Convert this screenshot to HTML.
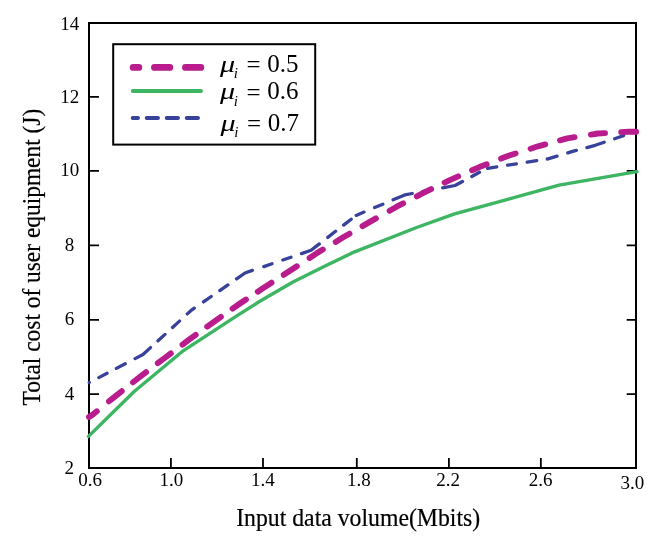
<!DOCTYPE html>
<html><head><meta charset="utf-8"><title>Total cost of user equipment</title>
<style>
html,body{margin:0;padding:0;background:#fff;}
svg{display:block}
text{font-family:"Liberation Serif","Times New Roman",serif;fill:#000}
.t{font-size:19px;text-anchor:middle}
.a{font-size:25px;stroke:#000;stroke-width:0.2px}
.l{font-size:25px}
.i{font-style:italic}
</style></head><body>
<svg width="662" height="543" viewBox="0 0 662 543">
<rect x="0" y="0" width="662" height="543" fill="#fff"/>
<rect x="89" y="23" width="547" height="445" fill="none" stroke="#000" stroke-width="2"/>
<path d="M89,96.8h10 M636,96.8h-9.3 M89,170.8h10 M636,170.8h-9.3 M89,245.4h10 M636,245.4h-9.3 M89,319.8h10 M636,319.8h-9.3 M89,394.2h10 M636,394.2h-9.3 M170.9,468v-10 M263.0,468v-10 M356.8,468v-10 M448.9,468v-10 M540.85,468v-10" fill="none" stroke="#000" stroke-width="1.8"/>
<path d="M88.5,436.4 L134.2,391.5 L182.0,351.7 L238.3,314.8 L258.6,302.0 L293.0,282.0 L325.6,265.7 L354.6,251.8 L416.6,227.5 L454.6,213.9 L487.6,204.8 L559.0,185.2 L637.0,171.6" fill="none" stroke="#3db562" stroke-width="3.4" stroke-linejoin="round" stroke-linecap="round"/>
<path d="M89.2,382.6 L89.3,382.5 M98.8,377.6 L107.1,373.2 M116.4,368.4 L125.2,363.8 M135.1,358.6 L143.0,354.5 L150.5,347.6 M158.0,340.8 L165.0,334.4 M172.5,327.5 L179.5,321.1 M187.3,313.9 L190.8,310.7 L194.3,308.2 M203.5,301.9 L211.2,296.5 M219.8,290.6 L227.9,284.9 M236.6,278.9 L245.0,273.0 L252.4,270.4 M263.8,266.6 L272.0,263.7 M282.8,260.0 L291.0,257.2 M301.5,253.6 L311.1,250.3 L319.3,243.9 M327.8,237.4 L335.6,231.3 M343.6,225.1 L351.2,219.2 M356.2,215.4 L364.0,212.1 M374.6,207.6 L382.8,204.2 M393.1,199.8 L404.8,194.9 L412.2,193.5 M422.6,191.6 L430.4,190.1 M442.6,187.8 L455.0,185.5 L462.5,181.5 M471.8,176.5 L479.5,172.3 M487.6,168.4 L496.8,166.9 M507.6,165.2 L516.4,163.9 M527.2,162.2 L536.7,160.7 M547.2,159.0 L548.0,158.9 L557.0,156.2 M567.8,152.9 L571.7,151.7 L576.4,150.4 M586.9,147.6 L595.2,145.3 L604.2,142.2 M614.6,138.7 L618.8,137.2 L623.6,135.6" fill="none" stroke="#38429a" stroke-width="3.3" stroke-linejoin="round" stroke-linecap="round"/>
<path d="M89.0,417.0 L93.2,414.2 L96.8,411.3 M109.0,401.3 L115.5,396.1 L121.7,391.2 M133.0,382.3 L139.4,377.3 L146.1,372.2 M157.8,363.2 L164.0,358.5 L170.8,353.4 M182.5,344.6 L189.0,339.7 L195.7,334.9 M207.2,326.6 L214.2,321.6 L220.9,316.9 M232.6,308.6 L239.2,304.0 L245.9,299.5 M257.8,291.7 L264.9,286.9 L271.5,282.7 M283.7,274.8 L290.3,270.6 L296.8,266.3 M309.6,258.0 L316.2,253.6 L322.8,249.6 M335.7,241.9 L342.8,237.6 L349.5,233.7 M362.5,226.1 L369.4,222.1 L375.9,218.4 M389.6,210.7 L396.6,206.7 L403.1,203.4 M416.8,196.3 L423.8,192.7 L431.1,189.1 M444.6,182.6 L449.2,180.4 L458.2,176.4 M472.1,170.3 L479.4,167.1 L486.7,164.3 M501.1,158.6 L508.4,155.8 L515.6,153.5 M530.6,148.7 L538.0,146.3 L545.2,144.4 M560.0,140.3 L567.2,138.4 L574.6,137.2 M590.9,134.6 L598.0,133.5 L605.0,133.1 M621.2,132.1 L628.8,131.7 L636.1,131.7" fill="none" stroke="#b91c8c" stroke-width="5.9" stroke-linejoin="round" stroke-linecap="round"/>
<text class="t" x="69.3" y="474.3">2</text>
<text class="t" x="69.6" y="399.8">4</text>
<text class="t" x="69.6" y="325.4">6</text>
<text class="t" x="69.6" y="251.0">8</text>
<text class="t" x="69.8" y="176.4">10</text>
<text class="t" x="69.8" y="102.7">12</text>
<text class="t" x="69.8" y="29.5">14</text>
<text class="t" x="90" y="486">0.6</text>
<text class="t" x="171.4" y="486">1.0</text>
<text class="t" x="262.9" y="486">1.4</text>
<text class="t" x="358.8" y="486">1.8</text>
<text class="t" x="448.2" y="486">2.2</text>
<text class="t" x="540.5" y="486">2.6</text>
<text class="t" x="632.3" y="488.8">3.0</text>
<text class="a" x="236.2" y="525.5" textLength="244" lengthAdjust="spacingAndGlyphs">Input data volume(Mbits)</text>
<text class="a" transform="translate(40.2,405.4) rotate(-90)" textLength="296.6" lengthAdjust="spacingAndGlyphs">Total cost of user equipment (J)</text>
<rect x="113.2" y="44.2" width="202" height="100.4" fill="#fff" stroke="#000" stroke-width="2"/>
<path d="M133.2,67.4H200.8" stroke="#b91c8c" stroke-width="6.9" stroke-linecap="round" stroke-dasharray="15.3 15.7" stroke-dashoffset="9.7" fill="none"/>
<path d="M132.8,91H201" stroke="#3db562" stroke-width="3.9" stroke-linecap="round" fill="none"/>
<path d="M132.7,118H198.2" stroke="#38429a" stroke-width="3.9" stroke-linecap="round" stroke-dasharray="11.3 8.7" stroke-dashoffset="6" fill="none"/>
<text class="l i" transform="translate(219.9,72.2) scale(1.21,0.93)">μ</text>
<text class="i" style="font-size:15px" x="233.8" y="78.4">i</text>
<text class="l" x="246.60000000000002" y="73.3">=</text>
<text class="l" x="267.3" y="72.2">0.5</text>
<text class="l i" transform="translate(219.9,99.4) scale(1.21,0.93)">μ</text>
<text class="i" style="font-size:15px" x="233.8" y="105.60000000000001">i</text>
<text class="l" x="246.60000000000002" y="100.5">=</text>
<text class="l" x="267.3" y="99.4">0.6</text>
<text class="l i" transform="translate(220.4,131.1) scale(1.21,0.93)">μ</text>
<text class="i" style="font-size:15px" x="234.3" y="137.29999999999998">i</text>
<text class="l" x="247.10000000000002" y="132.2">=</text>
<text class="l" x="267.8" y="131.1">0.7</text>
</svg></body></html>
